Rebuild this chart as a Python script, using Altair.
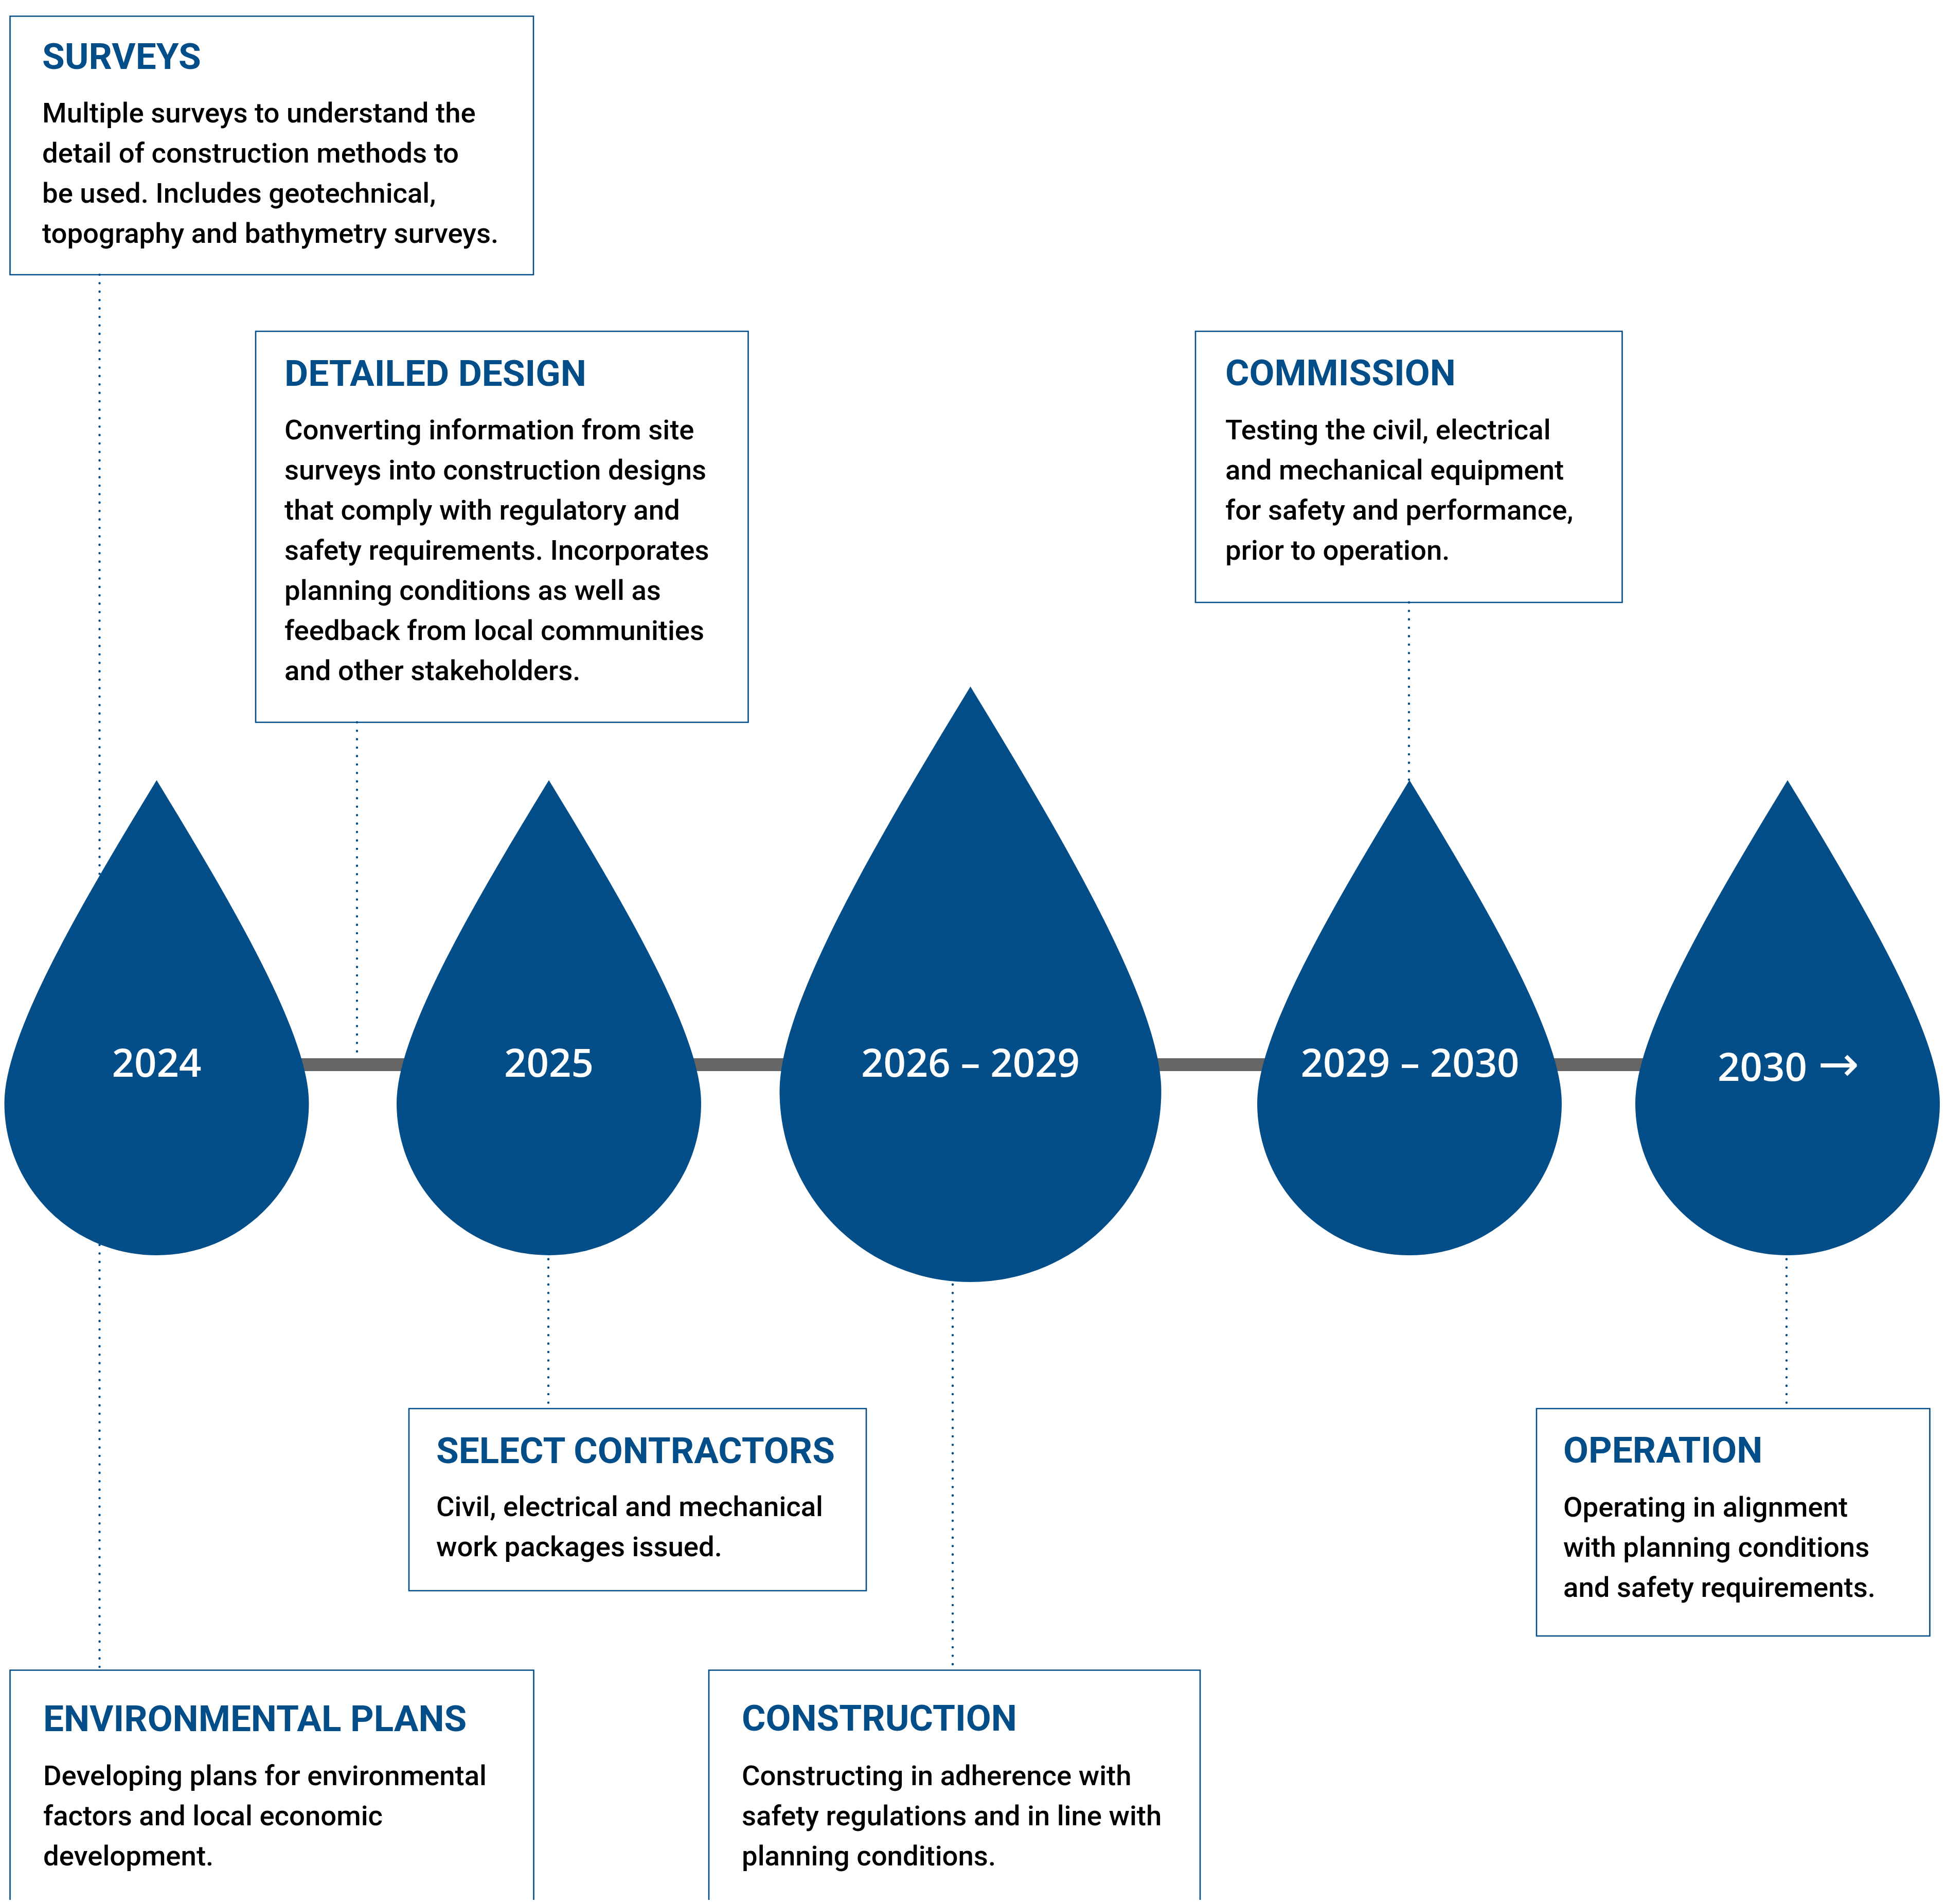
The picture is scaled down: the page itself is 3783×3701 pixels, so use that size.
import altair as alt

BLUE = "#034E88"
GREY = "#666666"

# ---------------- content ----------------
years = ["2024", "2025", "2026 – 2029", "2029 – 2030", "2030"]
arrows = ["", "", "", "", "→"]

titles = ["SURVEYS", "DETAILED DESIGN", "COMMISSION", "SELECT CONTRACTORS",
          "OPERATION", "ENVIRONMENTAL PLANS", "CONSTRUCTION"]

descriptions = [
    ["Multiple surveys to understand the", "detail of construction methods to",
     "be used. Includes geotechnical,", "topography and bathymetry surveys."],
    ["Converting information from site", "surveys into construction designs",
     "that comply with regulatory and", "safety requirements. Incorporates",
     "planning conditions as well as", "feedback from local communities",
     "and other stakeholders."],
    ["Testing the civil, electrical", "and mechanical equipment",
     "for safety and performance,", "prior to operation."],
    ["Civil, electrical and mechanical", "work packages issued."],
    ["Operating in alignment", "with planning conditions",
     "and safety requirements."],
    ["Developing plans for environmental", "factors and local economic",
     "development."],
    ["Constructing in adherence with", "safety regulations and in line with",
     "planning conditions."],
]

# ---------------- layout (page pixels) ----------------
drop_x = [304.5, 1067, 1886.5, 2740, 3475]
drop_cy = [2144, 2144, 2121, 2144, 2144]
drop_r = [296, 296, 371, 296, 296]
year_x = [304.5, 1067, 1886.5, 2741, 3426]
year_base = [2093, 2093, 2093, 2093, 2101]
arrow_x = [304.5, 1067, 1886.5, 2741, 3574]

box_x0 = [19.5, 497, 2324, 795, 2987, 19.5, 1378]
box_x1 = [1037, 1454.5, 3153.5, 1684, 3751.5, 1037.5, 2333]
box_y0 = [31.5, 644, 644, 2738, 2738, 3246.5, 3246.5]
box_y1 = [534, 1404, 1171, 3092, 3180, 3900, 3900]
text_x = [82, 553, 2382, 848, 3039, 84, 1442]
title_base = [134, 750, 749, 2844, 2843, 3365, 3364]
body_base = [238, 854, 854, 2947, 2948, 3470, 3470]

conn_x = [193.5, 694, 2739, 1066, 3473, 1852]
conn_y0 = [534, 1404, 1171, 2300, 2300, 2300]
conn_y1 = [3246.5, 2057, 1600, 2738, 2738, 3246.5]

bar_x0, bar_x1, bar_y = 304.5, 3475, 2069.5

W, H = 3767, 3685
XS = alt.Scale(domain=[8, 8 + W], nice=False, zero=False)
YS = alt.Scale(domain=[8, 8 + H], nice=False, zero=False, reverse=True)

DROP = ("M0,-2.12 C-0.5,-1.3 -1,-0.45 -1,0 "
        "C-1,0.5523 -0.5523,1 0,1 C0.5523,1 1,0.5523 1,0 "
        "C1,-0.45 0.5,-1.3 0,-2.12 Z")

# ---------------- layers ----------------
conn_data = alt.Data(values=[
    {"x": conn_x[i], "y": conn_y0[i], "y2": conn_y1[i]} for i in range(len(conn_x))
])
connectors = alt.Chart(conn_data).mark_rule(
    color=BLUE, strokeWidth=4.5, strokeCap="round", strokeDash=[0.1, 16.3]
).encode(
    x=alt.X("x:Q", scale=XS, axis=None),
    y=alt.Y("y:Q", scale=YS, axis=None),
    y2="y2:Q",
)

bar = alt.Chart(alt.Data(values=[{"x": bar_x0, "x2": bar_x1, "y": bar_y}])).mark_rule(
    color=GREY, strokeWidth=25
).encode(
    x=alt.X("x:Q", scale=XS, axis=None),
    x2="x2:Q",
    y=alt.Y("y:Q", scale=YS, axis=None),
)

drop_data = alt.Data(values=[
    {"year": years[i], "arrow": arrows[i], "x": drop_x[i], "y": drop_cy[i],
     "s": (2 * drop_r[i]) ** 2, "tx": year_x[i], "ax": arrow_x[i], "yb": year_base[i]}
    for i in range(len(years))
])
drops = alt.Chart(drop_data).mark_point(
    shape=DROP, filled=True, color=BLUE, opacity=1, strokeWidth=0
).encode(
    x=alt.X("x:Q", scale=XS, axis=None),
    y=alt.Y("y:Q", scale=YS, axis=None),
    size=alt.Size("s:Q", scale=None),
)

year_text = alt.Chart(drop_data).mark_text(
    align="center", baseline="alphabetic", font="Open Sans", fontSize=76,
    fontWeight=600, color="white"
).encode(
    x=alt.X("tx:Q", scale=XS, axis=None),
    y=alt.Y("yb:Q", scale=YS, axis=None),
    text="year:N",
)

arrow_text = alt.Chart(drop_data).mark_text(
    align="center", baseline="alphabetic", font="DejaVu Sans", fontSize=96,
    fontWeight="normal", color="white"
).encode(
    x=alt.X("ax:Q", scale=XS, axis=None),
    y=alt.Y("yb:Q", scale=YS, axis=None),
    text="arrow:N",
)

card_data = alt.Data(values=[
    {"title": titles[i], "desc": descriptions[i],
     "x0": box_x0[i], "x1": box_x1[i], "y0": box_y0[i], "y1": box_y1[i],
     "tx": text_x[i], "ty": title_base[i], "by": body_base[i]}
    for i in range(len(titles))
])
boxes = alt.Chart(card_data).mark_rect(
    fill="white", fillOpacity=0, stroke=BLUE, strokeWidth=2.6, clip=True
).encode(
    x=alt.X("x0:Q", scale=XS, axis=None),
    x2="x1:Q",
    y=alt.Y("y0:Q", scale=YS, axis=None),
    y2="y1:Q",
)

title_text = alt.Chart(card_data).mark_text(
    align="left", baseline="alphabetic", font="Roboto", fontSize=71,
    fontWeight="bold", color=BLUE
).encode(
    x=alt.X("tx:Q", scale=XS, axis=None),
    y=alt.Y("ty:Q", scale=YS, axis=None),
    text="title:N",
)

body_text = alt.Chart(card_data).mark_text(
    align="left", baseline="alphabetic", font="Roboto", fontSize=54.5,
    fontWeight=500, color="black", lineHeight=78
).encode(
    x=alt.X("tx:Q", scale=XS, axis=None),
    y=alt.Y("by:Q", scale=YS, axis=None),
    text=alt.Text("desc:N"),
)

chart = alt.layer(
    connectors, bar, drops, year_text, arrow_text, boxes, title_text, body_text
).properties(
    width=W, height=H, padding=0,
    autosize=alt.AutoSizeParams(type="none"),
    background="white",
).configure_view(strokeWidth=0)

chart.save("out.html", embed_options={"renderer": "svg", "actions": False})
